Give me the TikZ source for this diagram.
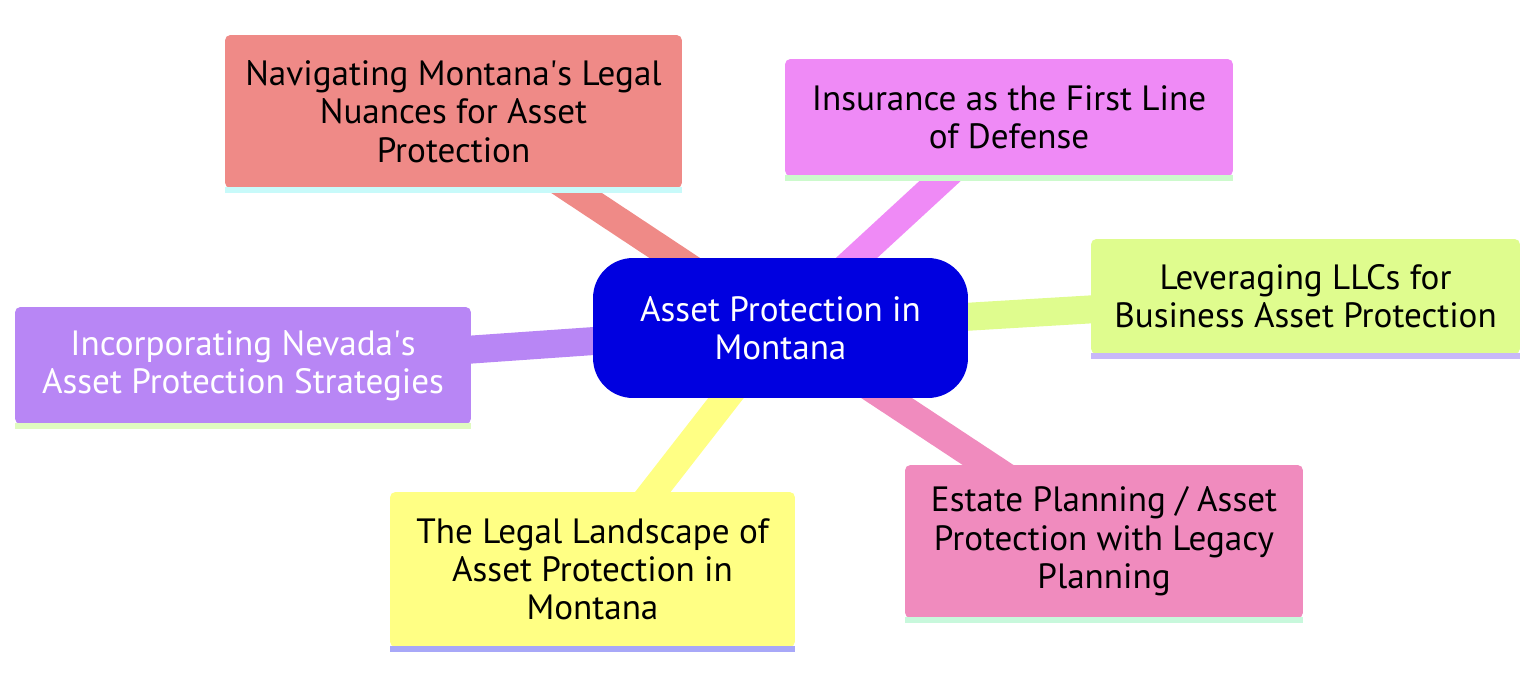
\documentclass[tikz,border=0pt]{standalone}
\usepackage{fontspec}
\setmainfont{PT Sans}
\usepackage{tikz}
\usetikzlibrary{positioning,backgrounds}
\definecolor{rootblue}{HTML}{0000E0}
\definecolor{navred}{HTML}{EF8A87}
\definecolor{insviolet}{HTML}{EF8AF6}
\definecolor{llclime}{HTML}{DFFC8E}
\definecolor{nevpurple}{HTML}{B886F5}
\definecolor{lawyellow}{HTML}{FFFF84}
\definecolor{estpink}{HTML}{F08BBE}
\definecolor{navstripe}{HTML}{C8FAFA}
\definecolor{insstripe}{HTML}{CCFACC}
\definecolor{llcstripe}{HTML}{C8B8F8}
\definecolor{nevstripe}{HTML}{E0FAC0}
\definecolor{lawstripe}{HTML}{A8A8F8}
\definecolor{eststripe}{HTML}{C8F8DC}

\begin{document}
\begin{tikzpicture}[x=0.02cm,y=-0.02cm,
  topic/.style={rounded corners=3pt,align=center,inner sep=0pt,
    font=\fontsize{20}{21.8}\selectfont},
  link/.style={line width=0.56cm}]
  \useasboundingbox (0,0) rectangle (1536,686);
  \node[topic,fill=rootblue,text=white,rounded corners=0.8cm,minimum width=7.5cm,minimum height=2.8cm] (root) at (780.5,328) {Asset Protection in\\Montana};
  \node[topic,fill=navred,minimum width=9.14cm,minimum height=3.06cm] (legal) at (453.5,111.5) {Navigating Montana\textquotesingle s Legal\\Nuances for Asset\\Protection};
  \node[topic,fill=insviolet,minimum width=8.96cm,minimum height=2.34cm] (insure) at (1009,117.5) {Insurance as the First Line\\of Defense};
  \node[topic,fill=llclime,minimum width=8.58cm,minimum height=2.3cm] (llc) at (1305.5,296.5) {Leveraging LLCs for\\Business Asset Protection};
  \node[topic,fill=nevpurple,text=white,minimum width=9.12cm,minimum height=2.34cm] (nevada) at (243,365.5) {Incorporating Nevada\textquotesingle s\\Asset Protection Strategies};
  \node[topic,fill=lawyellow,minimum width=8.1cm,minimum height=3.1cm] (landscape) at (592.5,569.5) {The Legal Landscape of\\Asset Protection in\\Montana};
  \node[topic,fill=estpink,minimum width=7.96cm,minimum height=3.06cm] (estate) at (1104,541.5) {Estate Planning / Asset\\Protection with Legacy\\Planning};
  % coloured strip under each topic box
  \fill[navstripe] ([yshift=1pt]legal.south west) rectangle ([yshift=-2.8pt]legal.south east);
  \fill[insstripe] ([yshift=1pt]insure.south west) rectangle ([yshift=-2.8pt]insure.south east);
  \fill[llcstripe] ([yshift=1pt]llc.south west) rectangle ([yshift=-2.8pt]llc.south east);
  \fill[nevstripe] ([yshift=1pt]nevada.south west) rectangle ([yshift=-2.8pt]nevada.south east);
  \fill[lawstripe] ([yshift=1pt]landscape.south west) rectangle ([yshift=-2.8pt]landscape.south east);
  \fill[eststripe] ([yshift=1pt]estate.south west) rectangle ([yshift=-2.8pt]estate.south east);
  \begin{scope}[on background layer]
    \draw[link,navred] (root.center) -- (legal.center);
    \draw[link,insviolet] (root.center) -- (insure.center);
    \draw[link,llclime] (root.center) -- (llc.center);
    \draw[link,nevpurple] (root.center) -- (nevada.center);
    \draw[link,lawyellow] (root.center) -- (landscape.center);
    \draw[link,estpink] (root.center) -- (estate.center);
  \end{scope}
\end{tikzpicture}
\end{document}
